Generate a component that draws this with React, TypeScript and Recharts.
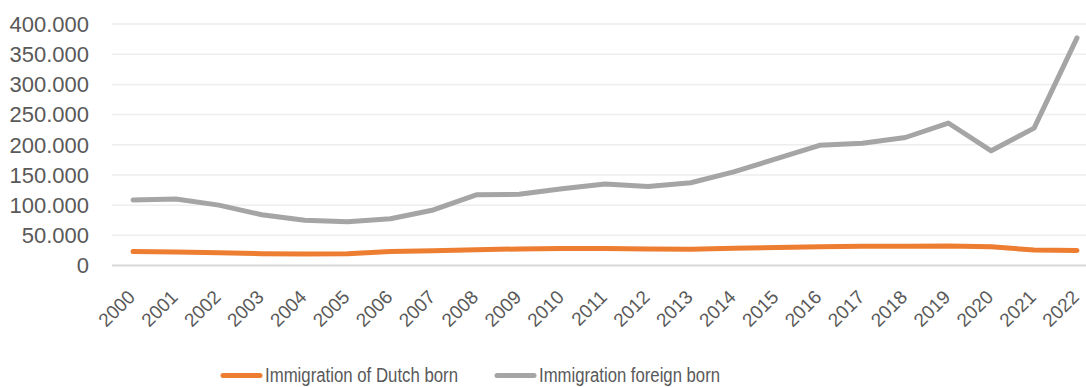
import React from 'react';
import {
  LineChart,
  Line,
  XAxis,
  YAxis,
  CartesianGrid,
  Legend,
} from 'recharts';

const years = [
  '2000', '2001', '2002', '2003', '2004', '2005', '2006', '2007', '2008', '2009', '2010', '2011',
  '2012', '2013', '2014', '2015', '2016', '2017', '2018', '2019', '2020', '2021', '2022',
];

const dutchBorn = [
  23000, 22500, 21000, 19500, 19000, 19500, 23000, 24500, 26000, 27500, 28000, 28000,
  27500, 27000, 28500, 30000, 31000, 32000, 32000, 32500, 31000, 25500, 25000,
];

const foreignBorn = [
  108600, 110000, 100000, 84000, 75000, 72500, 77500, 92000, 117000, 118000, 127000, 135000,
  131000, 137000, 155000, 177000, 199000, 202500, 212000, 236000, 190000, 227500, 377000,
];

const yTicks = [0, 50000, 100000, 150000, 200000, 250000, 300000, 350000, 400000];

const DUTCH = 'Immigration of Dutch born';
const FOREIGN = 'Immigration foreign born';
const seriesOrder = [DUTCH, FOREIGN];

const chartData = years.map((year, i) => ({
  year,
  [DUTCH]: dutchBorn[i],
  [FOREIGN]: foreignBorn[i],
}));

const FONT = '"Liberation Sans", Arial, sans-serif';
const TEXT = '#595959';

// dotted thousands separator, e.g. 150.000
const fmt = (v: number) => String(v).replace(/\B(?=(\d{3})+(?!\d))/g, '.');

// legend labels are drawn in a condensed face
const legendTextWidth: Record<string, number> = {
  [DUTCH]: 193,
  [FOREIGN]: 181,
};

function YearTick(props: any) {
  const { x, y, payload } = props;
  return (
    <g transform={`translate(${x - 6.5},${y + 23})`}>
      <text
        x={0}
        y={0}
        dy="0.72em"
        textAnchor="end"
        transform="rotate(-45)"
        fill={TEXT}
        fontSize={19}
        fontFamily={FONT}
      >
        {payload.value}
      </text>
    </g>
  );
}

function LegendContent(props: any) {
  const payload = [...(props.payload ?? [])].sort(
    (a: any, b: any) => seriesOrder.indexOf(a.value) - seriesOrder.indexOf(b.value),
  );
  let cx = 221;
  const items = payload.map((entry: any) => {
    const w = legendTextWidth[entry.value] ?? 190;
    const x0 = cx;
    cx = x0 + 44 + w + 37;
    return (
      <g key={entry.value}>
        <line
          x1={x0 + 2}
          x2={x0 + 39}
          y1={35.5}
          y2={35.5}
          stroke={entry.color}
          strokeWidth={5}
          strokeLinecap="round"
        />
        <text
          x={x0 + 44}
          y={42}
          fill={TEXT}
          fontSize={20}
          fontFamily={FONT}
          textLength={w}
          lengthAdjust="spacingAndGlyphs"
        >
          {entry.value}
        </text>
      </g>
    );
  });
  return (
    <svg width={1086} height={47} style={{ display: 'block' }}>
      {items}
    </svg>
  );
}

export default function App() {
  return (
    <div style={{ width: 1086, height: 387, background: '#fff' }}>
      <style>{'body{margin:0;}'}</style>
      <LineChart
        width={1086}
        height={387}
        data={chartData}
        margin={{ top: 24, right: 0, bottom: 0, left: 0 }}
      >
        <CartesianGrid vertical={false} stroke="#eeeeee" strokeWidth={1.5} />
        <XAxis
          dataKey="year"
          interval={0}
          height={74.5}
          padding={{ left: 21, right: 9 }}
          axisLine={{ stroke: '#d9d9d9', strokeWidth: 2 }}
          tickLine={false}
          tickSize={0}
          tickMargin={0}
          tick={<YearTick />}
        />
        <YAxis
          domain={[0, 400000]}
          ticks={yTicks}
          interval={0}
          width={112}
          axisLine={false}
          tickLine={false}
          tickSize={0}
          tickMargin={23}
          tickFormatter={fmt}
          tick={{ fill: TEXT, fontSize: 22, fontFamily: FONT }}
        />
        <Legend
          verticalAlign="bottom"
          height={47}
          content={<LegendContent />}
          wrapperStyle={{ left: 0, width: 1086 }}
        />
        <Line
          type="linear"
          dataKey={DUTCH}
          stroke="#ed7d31"
          strokeWidth={5}
          strokeLinecap="round"
          strokeLinejoin="round"
          dot={false}
          isAnimationActive={false}
        />
        <Line
          type="linear"
          dataKey={FOREIGN}
          stroke="#a5a5a5"
          strokeWidth={5}
          strokeLinecap="round"
          strokeLinejoin="round"
          dot={false}
          isAnimationActive={false}
        />
      </LineChart>
    </div>
  );
}
